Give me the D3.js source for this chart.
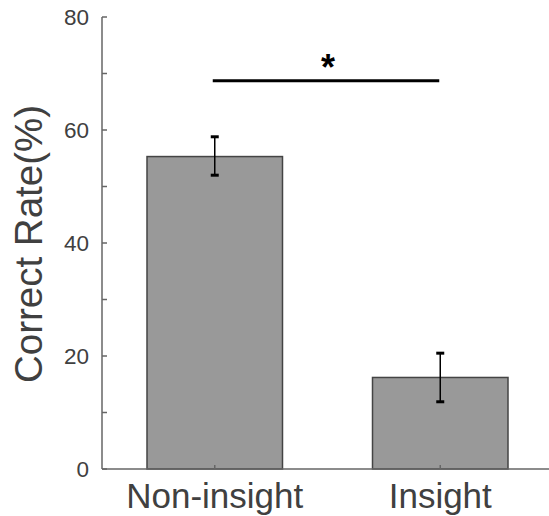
<!DOCTYPE html>
<html>
<head>
<meta charset="utf-8">
<script src="https://cdn.jsdelivr.net/npm/d3@7"></script>
<style>
  body { margin: 0; background: #fff; }
  text { font-family: "Liberation Sans", Arial, sans-serif; }
</style>
</head>
<body>
<div id="chart"></div>
<script>
// data
const groups = ["Non-insight", "Insight"];
const means = [55.3, 16.2];
const errLow = [52.0, 11.9];
const errHigh = [58.8, 20.5];
const yTicks = [0, 20, 40, 60, 80];
const yMinor = [10, 30, 50, 70];
const sigPair = ["Non-insight", "Insight"];

const W = 549, H = 516;
const margin = { top: 17, right: 0, bottom: 47, left: 102 };

const svg = d3.select("#chart")
    .append("svg")
    .attr("width", W)
    .attr("height", H);

// x is linear like matlab bars: categories at 1 and 2
const x = d3.scaleLinear()
    .domain([0.5, 2.5])
    .range([margin.left, margin.left + 2 * 225.5]);
const y = d3.scaleLinear()
    .domain([0, 80])
    .range([H - margin.bottom, margin.top]);

const barW = 135.5 / 225.5; // in category units
const axisCol = "#666";
const textCol = "#404040";

// bars
svg.selectAll("rect.bar")
    .data(means)
    .enter()
    .append("rect")
    .attr("class", "bar")
    .attr("x", (d, i) => x(i + 1 - barW / 2))
    .attr("width", x(1 + barW / 2) - x(1 - barW / 2))
    .attr("y", d => y(d))
    .attr("height", d => y(0) - y(d))
    .attr("fill", "#999999")
    .attr("stroke", "#444")
    .attr("stroke-width", 1.5);

// error bars
const capHalf = 4;
means.forEach((m, i) => {
    const cx = x(i + 1);
    const g = svg.append("g").attr("stroke", "#000");
    g.append("line")
        .attr("x1", cx).attr("x2", cx)
        .attr("y1", y(errLow[i])).attr("y2", y(errHigh[i]))
        .attr("stroke-width", 1.5);
    [errLow[i], errHigh[i]].forEach(v => {
        g.append("line")
            .attr("x1", cx - capHalf).attr("x2", cx + capHalf)
            .attr("y1", y(v)).attr("y2", y(v))
            .attr("stroke-width", 3);
    });
});

// y axis
const yAxis = svg.append("g").attr("transform", `translate(${margin.left},0)`);
yAxis.append("line")
    .attr("x1", 0).attr("x2", 0)
    .attr("y1", y(80)).attr("y2", y(0))
    .attr("stroke", axisCol).attr("stroke-width", 1.5);
yAxis.selectAll("line.tick")
    .data(yTicks.concat(yMinor))
    .enter()
    .append("line")
    .attr("class", "tick")
    .attr("x1", 0).attr("x2", 5)
    .attr("y1", d => y(d)).attr("y2", d => y(d))
    .attr("stroke", axisCol).attr("stroke-width", 1.5);
yAxis.selectAll("text")
    .data(yTicks)
    .enter()
    .append("text")
    .attr("x", -13)
    .attr("y", d => y(d))
    .attr("dy", "0.36em")
    .attr("text-anchor", "end")
    .attr("fill", textCol)
    .style("font-size", "22.5px")
    .text(d => d);

// x axis
const xAxis = svg.append("g").attr("transform", `translate(0,${y(0)})`);
xAxis.append("line")
    .attr("x1", margin.left).attr("x2", W)
    .attr("stroke", axisCol).attr("stroke-width", 1.5);
xAxis.selectAll("line.tick")
    .data(groups)
    .enter()
    .append("line")
    .attr("class", "tick")
    .attr("x1", (d, i) => x(i + 1)).attr("x2", (d, i) => x(i + 1))
    .attr("y1", 0).attr("y2", -4)
    .attr("stroke", axisCol).attr("stroke-width", 1.5);
xAxis.selectAll("text")
    .data(groups)
    .enter()
    .append("text")
    .attr("x", (d, i) => x(i + 1))
    .attr("y", 39)
    .attr("text-anchor", "middle")
    .attr("fill", textCol)
    .style("font-size", "35px")
    .text(d => d);

// y label
svg.append("text")
    .attr("transform", "translate(42,244)rotate(-90)")
    .attr("text-anchor", "middle")
    .attr("fill", textCol)
    .style("font-size", "38.5px")
    .text("Correct Rate(%)");

// significance bracket
const sx1 = x(groups.indexOf(sigPair[0]) + 1) - 2;
const sx2 = x(groups.indexOf(sigPair[1]) + 1) - 1;
svg.append("line")
    .attr("x1", sx1).attr("x2", sx2)
    .attr("y1", 80.7).attr("y2", 80.7)
    .attr("stroke", "#000").attr("stroke-width", 3);
svg.append("text")
    .attr("x", (sx1 + sx2) / 2 + 2)
    .attr("y", 80)
    .attr("text-anchor", "middle")
    .attr("fill", "#000")
    .style("font-size", "36px")
    .style("font-weight", "bold")
    .text("*");
</script>
</body>
</html>
